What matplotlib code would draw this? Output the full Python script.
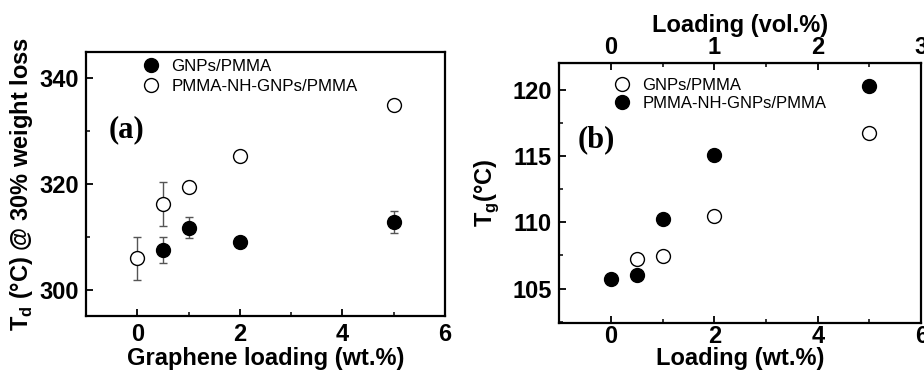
import matplotlib
matplotlib.use("Agg")
import matplotlib.pyplot as plt
from matplotlib.ticker import MultipleLocator
from matplotlib.lines import Line2D

plt.rcParams['font.family'] = ['Liberation Sans', 'DejaVu Sans']

# Panel (a) data
a_x = [0.5, 1, 2, 5]
a_gnp = [307.5, 311.7, 309.0, 312.8]
a_gnp_err = [2.5, 2.0, 0.3, 2.1]
a_x_open = [0, 0.5, 1, 2, 5]
a_nh = [305.9, 316.2, 319.5, 325.3, 335.0]
a_nh_err = [4.0, 4.2, 1.0, 0.7, 0.8]

# Panel (b) data
b_x_open = [0.5, 1, 2, 5]
b_gnp = [107.25, 107.45, 110.45, 116.7]
b_x_fill = [0, 0.5, 1, 2, 5]
b_nh = [105.75, 106.0, 110.25, 115.1, 120.3]

label_gnp = "GNPs/PMMA"
label_nh = "PMMA-NH-GNPs/PMMA"

fig = plt.figure(figsize=(9.24, 3.70), dpi=100)
axa = fig.add_axes([0.0931, 0.1459, 0.3885, 0.7135])
axb = fig.add_axes([0.605, 0.127, 0.392, 0.7027])

TICK_FS = 17
LAB_FS = 17
for ax in (axa, axb):
    for s in ax.spines.values():
        s.set_linewidth(1.6)
    ax.tick_params(direction='in', width=1.3, length=5, pad=5)
    ax.tick_params(which='minor', direction='in', width=1.1, length=3)

err_col = '#555555'
# ---- panel (a)
axa.errorbar(a_x, a_gnp, yerr=a_gnp_err, fmt='o', color='black', ms=10,
             ecolor=err_col, elinewidth=1.0, capsize=3)
axa.errorbar(a_x_open, a_nh, yerr=a_nh_err, fmt='o', mfc='white', mec='black',
             mew=1.0, ms=10, ecolor=err_col, elinewidth=1.0, capsize=3)
axa.plot(a_x_open, a_nh, '.', color='#333333', ms=2)
axa.set_xlim(-1, 6)
axa.set_ylim(295, 345)
axa.set_xticks([0, 2, 4, 6])
axa.set_xticklabels(['0', '2', '4', '6'], fontweight='bold', fontsize=TICK_FS)
axa.xaxis.set_minor_locator(MultipleLocator(1))
axa.set_yticks([300, 320, 340])
axa.set_yticklabels(['300', '320', '340'], fontweight='bold', fontsize=TICK_FS)
axa.yaxis.set_minor_locator(MultipleLocator(10))
axa.set_xlabel('Graphene loading (wt.%)', fontsize=LAB_FS, fontweight='bold', labelpad=1)
axa.set_ylabel(r'T$_\mathregular{d}$ (°C) @ 30% weight loss', fontsize=LAB_FS,
               fontweight='bold', labelpad=3)
axa.text(0.062, 0.705, '(a)', transform=axa.transAxes, fontsize=22,
         fontweight='bold', family='Liberation Serif', va='center')
ha = [Line2D([], [], ls='none', marker='o', color='black', ms=10),
      Line2D([], [], ls='none', marker='o', mfc='white', mec='black', mew=1.0, ms=10)]
axa.legend(ha, [label_gnp, label_nh], loc='upper left', bbox_to_anchor=(0.115, 1.03),
           frameon=False, fontsize=12.2, handletextpad=0.7, labelspacing=0.25,
           handlelength=1.0)

# ---- panel (b)
axb.errorbar(b_x_open, b_gnp, yerr=0.12, fmt='o', mfc='white', mec='black',
             mew=1.0, ms=10, ecolor=err_col, elinewidth=0.8, capsize=2)
axb.plot(b_x_open, b_gnp, '.', color='#333333', ms=2)
axb.plot(b_x_fill, b_nh, 'o', color='black', ms=10)
axb.set_xlim(-1, 6)
axb.set_ylim(102.4, 122.0)
axb.set_xticks([0, 2, 4, 6])
axb.set_xticklabels(['0', '2', '4', '6'], fontweight='bold', fontsize=TICK_FS)
axb.xaxis.set_minor_locator(MultipleLocator(1))
axb.set_yticks([105, 110, 115, 120])
axb.set_yticklabels(['105', '110', '115', '120'], fontweight='bold', fontsize=TICK_FS)
axb.yaxis.set_minor_locator(MultipleLocator(2.5))
axb.tick_params(axis='x', pad=1.5)
axb.set_xlabel('Loading (wt.%)', fontsize=LAB_FS, fontweight='bold', labelpad=-1)
axb.set_ylabel(r'T$_\mathregular{g}$(°C)', fontsize=LAB_FS, fontweight='bold', labelpad=8)
axb.text(0.05, 0.705, '(b)', transform=axb.transAxes, fontsize=22,
         fontweight='bold', family='Liberation Serif', va='center')
hb = [Line2D([], [], ls='none', marker='o', mfc='white', mec='black', mew=1.0, ms=10),
      Line2D([], [], ls='none', marker='o', color='black', ms=10)]
axb.legend(hb, [label_gnp, label_nh], loc='upper left', bbox_to_anchor=(0.11, 1.0),
           frameon=False, fontsize=12, handletextpad=0.7, labelspacing=0.15,
           handlelength=1.0)

secax = axb.secondary_xaxis('top', functions=(lambda x: x / 2, lambda v: v * 2))
secax.set_xticks([0, 1, 2, 3])
secax.set_xticklabels(['0', '1', '2', '3'], fontweight='bold', fontsize=TICK_FS)
secax.xaxis.set_minor_locator(MultipleLocator(0.5))
secax.tick_params(direction='in', width=1.3, length=5, pad=3)
secax.tick_params(which='minor', direction='in', width=1.1, length=3)
secax.set_xlabel('Loading (vol.%)', fontsize=LAB_FS, fontweight='bold', labelpad=3)

fig.savefig('out.png', dpi=100)
